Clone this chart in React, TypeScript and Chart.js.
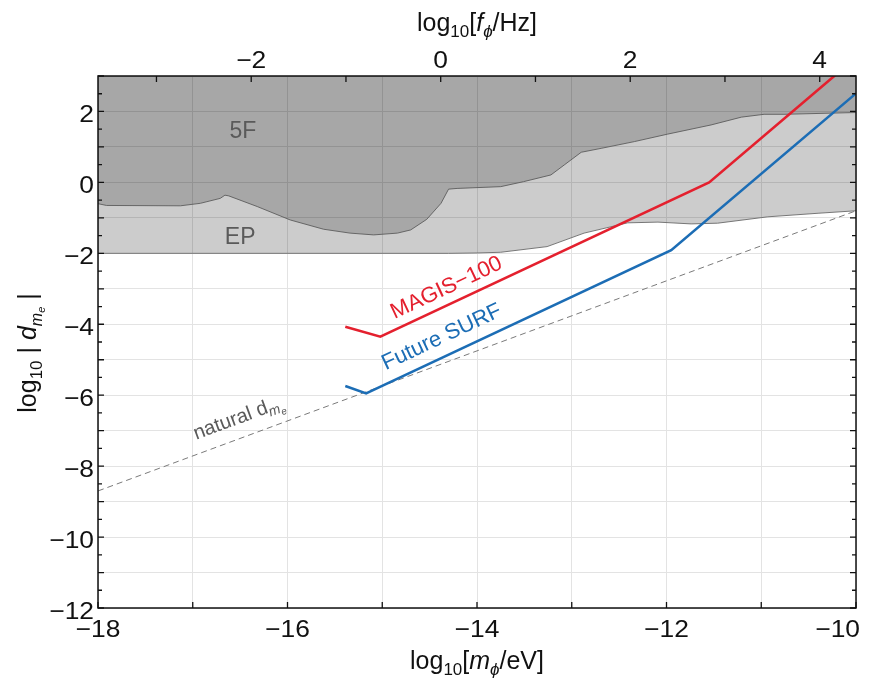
import React, { useEffect, useRef } from 'react';
import { Chart, registerables } from 'chart.js';

Chart.register(...registerables);

// ---------------- data ----------------
const X_MIN = -18;
const X_MAX = -10;
const Y_MIN = -12;
const Y_MAX = 3;
const HZ_OFFSET = 14.383; // log10(eV/h in Hz)

const X_TICKS = [-18, -17, -16, -15, -14, -13, -12, -11, -10];
const X_LABELS = [-18, -16, -14, -12, -10];
const Y_TICKS = [-12, -11, -10, -9, -8, -7, -6, -5, -4, -3, -2, -1, 0, 1, 2, 3];
const Y_LABELS = [-12, -10, -8, -6, -4, -2, 0, 2];
const TOP_TICKS = [-3, -2, -1, 0, 1, 2, 3, 4];
const TOP_LABELS = [-2, 0, 2, 4];

// EP excluded region lower boundary
const EP_X = [-18, -14.3, -14.0, -13.75, -13.26, -12.87, -12.41, -12.09, -11.74, -11.46, -10.93, -10.4, -10.0];
const EP_Y = [-2, -2, -1.99, -1.97, -1.81, -1.43, -1.14, -1.12, -1.17, -1.15, -0.97, -0.87, -0.8];

// Fifth-force excluded region lower boundary
const FF_X = [-18, -17.91, -17.13, -16.92, -16.71, -16.66, -16.62, -16.32, -15.97, -15.62, -15.34, -15.09, -14.84, -14.7, -14.53, -14.38, -14.3, -14.21, -13.75, -13.51, -13.22, -13.08, -12.9, -12.69, -12.34, -11.99, -11.53, -11.21, -10.97, -10.76, -10.0];
const FF_Y = [-0.6, -0.65, -0.66, -0.59, -0.45, -0.36, -0.38, -0.68, -1.06, -1.32, -1.43, -1.48, -1.43, -1.34, -1.04, -0.59, -0.19, -0.17, -0.12, 0.02, 0.21, 0.49, 0.85, 0.96, 1.15, 1.36, 1.62, 1.84, 1.92, 1.92, 1.97];

const NATURAL_X = [-18, -10];
const NATURAL_Y = [-8.7, -0.8];

const MAGIS_X = [-15.39, -15.02, -11.55, -10];
const MAGIS_Y = [-4.07, -4.35, 0, 3.52];

const SURF_X = [-15.39, -15.17, -11.95, -10];
const SURF_Y = [-5.74, -5.95, -1.91, 2.51];

// label anchors (data coords)
const LABEL_5F = { x: -16.47, y: 1.43 };
const LABEL_EP = { x: -16.5, y: -1.55 };
const LABEL_MAGIS = { x: -14.33, y: -2.93 };
const LABEL_SURF = { x: -14.38, y: -4.32 };
const LABEL_NATURAL = { x: -16.52, y: -6.6 };

// ---------------- styles ----------------
const FONT = '"Liberation Sans", Arial, Helvetica, sans-serif';
const RED = '#e4202e';
const BLUE = '#1c6db5';
const TEXT_GRAY = '#5a5a5a';
const TICK_FONT = `24px ${FONT}`;
const TICK_STRETCH = 1.1;

const zip = (xs: number[], ys: number[]) => xs.map((x, i) => ({ x, y: ys[i] }));
const minus = (v: number) => (v < 0 ? '\u2212' + Math.abs(v) : String(v));

type Seg = { t: string; size: number; italic?: boolean; dy?: number };

function drawRich(ctx: CanvasRenderingContext2D, segs: Seg[], cx: number, cy: number, color: string, rot = 0, baseSize = 22) {
  ctx.save();
  ctx.translate(cx, cy);
  ctx.rotate(rot);
  ctx.fillStyle = color;
  ctx.textBaseline = 'alphabetic';
  ctx.textAlign = 'left';
  const fontOf = (s: Seg) => `${s.italic ? 'italic ' : ''}${s.size}px ${FONT}`;
  let total = 0;
  const widths = segs.map((s) => {
    ctx.font = fontOf(s);
    const w = ctx.measureText(s.t).width;
    total += w;
    return w;
  });
  let x = -total / 2;
  const base = baseSize * 0.36;
  segs.forEach((s, i) => {
    ctx.font = fontOf(s);
    ctx.fillText(s.t, x, base + (s.dy || 0));
    x += widths[i];
  });
  ctx.restore();
}

function tickText(ctx: CanvasRenderingContext2D, text: string, x: number, y: number, align: CanvasTextAlign, maxRight = Infinity) {
  ctx.save();
  ctx.font = TICK_FONT;
  const w = ctx.measureText(text).width * TICK_STRETCH;
  let px = x;
  if (align === 'center' && px + w / 2 > maxRight) px = maxRight - w / 2;
  ctx.translate(px, y);
  ctx.scale(TICK_STRETCH, 1);
  ctx.fillStyle = '#111';
  ctx.textAlign = align;
  ctx.textBaseline = 'alphabetic';
  ctx.fillText(text, 0, 0);
  ctx.restore();
}

const overlayPlugin = {
  id: 'overlay',
  afterDatasetsDraw(chart: any) {
    const { ctx, chartArea: a, scales } = chart;
    const xs = scales.x;
    const ys = scales.y;
    const xt = scales.x2;

    // region labels
    ctx.save();
    ctx.fillStyle = TEXT_GRAY;
    ctx.font = `23px ${FONT}`;
    ctx.textAlign = 'center';
    ctx.textBaseline = 'middle';
    ctx.fillText('5F', xs.getPixelForValue(LABEL_5F.x), ys.getPixelForValue(LABEL_5F.y));
    ctx.fillText('EP', xs.getPixelForValue(LABEL_EP.x), ys.getPixelForValue(LABEL_EP.y));
    ctx.restore();

    const angleOf = (X: number[], Y: number[], i: number) => {
      const dx = xs.getPixelForValue(X[i + 1]) - xs.getPixelForValue(X[i]);
      const dy = ys.getPixelForValue(Y[i + 1]) - ys.getPixelForValue(Y[i]);
      return Math.atan2(dy, dx);
    };

    drawRich(ctx, [{ t: 'MAGIS\u2212100', size: 22 }], xs.getPixelForValue(LABEL_MAGIS.x), ys.getPixelForValue(LABEL_MAGIS.y), RED, angleOf(MAGIS_X, MAGIS_Y, 1));
    drawRich(ctx, [{ t: 'Future SURF', size: 22 }], xs.getPixelForValue(LABEL_SURF.x), ys.getPixelForValue(LABEL_SURF.y), BLUE, angleOf(SURF_X, SURF_Y, 1));
    drawRich(
      ctx,
      [
        { t: 'natural d', size: 20 },
        { t: 'm', size: 14, italic: true, dy: 4 },
        { t: 'e', size: 10, italic: true, dy: 7 },
      ],
      xs.getPixelForValue(LABEL_NATURAL.x),
      ys.getPixelForValue(LABEL_NATURAL.y),
      TEXT_GRAY,
      angleOf(NATURAL_X, NATURAL_Y, 0),
      20
    );

    // frame
    ctx.save();
    ctx.strokeStyle = '#111';
    ctx.lineWidth = 1.5;
    ctx.strokeRect(a.left, a.top, a.right - a.left, a.bottom - a.top);

    // inward tick marks
    ctx.lineWidth = 1.3;
    ctx.beginPath();
    X_TICKS.forEach((v) => {
      const p = xs.getPixelForValue(v);
      ctx.moveTo(p, a.bottom);
      ctx.lineTo(p, a.bottom - 6);
    });
    TOP_TICKS.forEach((v) => {
      const p = xt.getPixelForValue(v);
      if (p < a.left || p > a.right) return;
      ctx.moveTo(p, a.top);
      ctx.lineTo(p, a.top + 6);
    });
    for (let v = Y_MIN; v <= Y_MAX + 1e-9; v += 0.5) {
      const p = ys.getPixelForValue(v);
      const len = Math.abs(v - Math.round(v)) < 1e-6 ? 6 : 4;
      ctx.moveTo(a.left, p);
      ctx.lineTo(a.left + len, p);
      ctx.moveTo(a.right, p);
      ctx.lineTo(a.right - len, p);
    }
    ctx.stroke();
    ctx.restore();

    // tick labels
    X_LABELS.forEach((v) => tickText(ctx, minus(v), xs.getPixelForValue(v), a.bottom + 29, 'center', a.right + 4));
    TOP_LABELS.forEach((v) => tickText(ctx, minus(v), xt.getPixelForValue(v), a.top - 8, 'center'));
    Y_LABELS.forEach((v) => tickText(ctx, minus(v), a.left - 4, ys.getPixelForValue(v) + 11, 'right'));

    // axis titles
    drawRich(
      ctx,
      [
        { t: 'log', size: 25 },
        { t: '10', size: 17, dy: 6 },
        { t: '[', size: 25 },
        { t: 'm', size: 25, italic: true },
        { t: '\u03D5', size: 17, italic: true, dy: 6 },
        { t: '/eV]', size: 25 },
      ],
      (a.left + a.right) / 2,
      660,
      '#111',
      0,
      25
    );
    drawRich(
      ctx,
      [
        { t: 'log', size: 25 },
        { t: '10', size: 17, dy: 6 },
        { t: '[', size: 25 },
        { t: 'f', size: 25, italic: true },
        { t: '\u03D5', size: 17, italic: true, dy: 6 },
        { t: '/Hz]', size: 25 },
      ],
      (a.left + a.right) / 2,
      22,
      '#111',
      0,
      25
    );
    drawRich(
      ctx,
      [
        { t: 'log', size: 25 },
        { t: '10', size: 17, dy: 6 },
        { t: ' | ', size: 25 },
        { t: 'd', size: 25, italic: true },
        { t: 'm', size: 16, italic: true, dy: 6 },
        { t: 'e', size: 11, italic: true, dy: 9 },
        { t: ' |', size: 25 },
      ],
      27,
      353,
      '#111',
      -Math.PI / 2,
      25
    );
  },
};

export default function App() {
  const ref = useRef<HTMLCanvasElement | null>(null);

  useEffect(() => {
    if (!ref.current) return;
    const zeroPad = (s: any) => {
      s.paddingLeft = 0;
      s.paddingRight = 0;
      s.paddingTop = 0;
      s.paddingBottom = 0;
    };
    const chart = new Chart(ref.current, {
      type: 'line',
      data: {
        datasets: [
          {
            label: 'MAGIS-100',
            data: zip(MAGIS_X, MAGIS_Y),
            borderColor: RED,
            borderWidth: 2.6,
            pointRadius: 0,
            fill: false,
            order: 0,
          },
          {
            label: 'Future SURF',
            data: zip(SURF_X, SURF_Y),
            borderColor: BLUE,
            borderWidth: 2.6,
            pointRadius: 0,
            fill: false,
            order: 0,
          },
          {
            label: 'natural',
            data: zip(NATURAL_X, NATURAL_Y),
            borderColor: '#7a7a7a',
            borderWidth: 1,
            borderDash: [6, 4],
            pointRadius: 0,
            fill: false,
            order: 1,
          },
          {
            label: '5F',
            data: zip(FF_X, FF_Y),
            borderColor: '#5c5c5c',
            borderWidth: 0.9,
            backgroundColor: 'rgba(0,0,0,0.185)',
            pointRadius: 0,
            fill: 'end',
            order: 2,
          },
          {
            label: 'EP',
            data: zip(EP_X, EP_Y),
            borderColor: '#6a6a6a',
            borderWidth: 0.9,
            backgroundColor: 'rgba(0,0,0,0.2)',
            pointRadius: 0,
            fill: 'end',
            order: 3,
          },
        ],
      },
      options: {
        animation: false,
        responsive: false,
        maintainAspectRatio: false,
        layout: { padding: { left: 0, right: 23, top: 0, bottom: 0 } },
        plugins: { legend: { display: false }, tooltip: { enabled: false } },
        elements: { line: { tension: 0 } },
        scales: {
          x: {
            type: 'linear',
            position: 'bottom',
            min: X_MIN,
            max: X_MAX,
            afterBuildTicks: (s: any) => {
              s.ticks = X_TICKS.map((v) => ({ value: v }));
            },
            afterFit: (s: any) => {
              s.height = 72;
              zeroPad(s);
            },
            grid: { color: '#e3e3e3', lineWidth: 1, drawTicks: false },
            border: { display: false },
            ticks: { display: false },
          },
          x2: {
            type: 'linear',
            position: 'top',
            min: X_MIN + HZ_OFFSET,
            max: X_MAX + HZ_OFFSET,
            afterBuildTicks: (s: any) => {
              s.ticks = TOP_TICKS.map((v) => ({ value: v }));
            },
            afterFit: (s: any) => {
              s.height = 76;
              zeroPad(s);
            },
            grid: { display: false, drawTicks: false },
            border: { display: false },
            ticks: { display: false },
          },
          y: {
            type: 'linear',
            position: 'left',
            min: Y_MIN,
            max: Y_MAX,
            afterBuildTicks: (s: any) => {
              s.ticks = Y_TICKS.map((v) => ({ value: v }));
            },
            afterFit: (s: any) => {
              s.width = 98;
              zeroPad(s);
            },
            grid: { color: '#e3e3e3', lineWidth: 1, drawTicks: false },
            border: { display: false },
            ticks: { display: false },
          },
        },
      },
      plugins: [overlayPlugin],
    } as any);
    return () => chart.destroy();
  }, []);

  return (
    <div style={{ position: 'absolute', left: 0, top: 0, width: 879, height: 680, background: '#fff' }}>
      <canvas ref={ref} width={879} height={680} style={{ width: 879, height: 680, display: 'block' }} />
    </div>
  );
}
